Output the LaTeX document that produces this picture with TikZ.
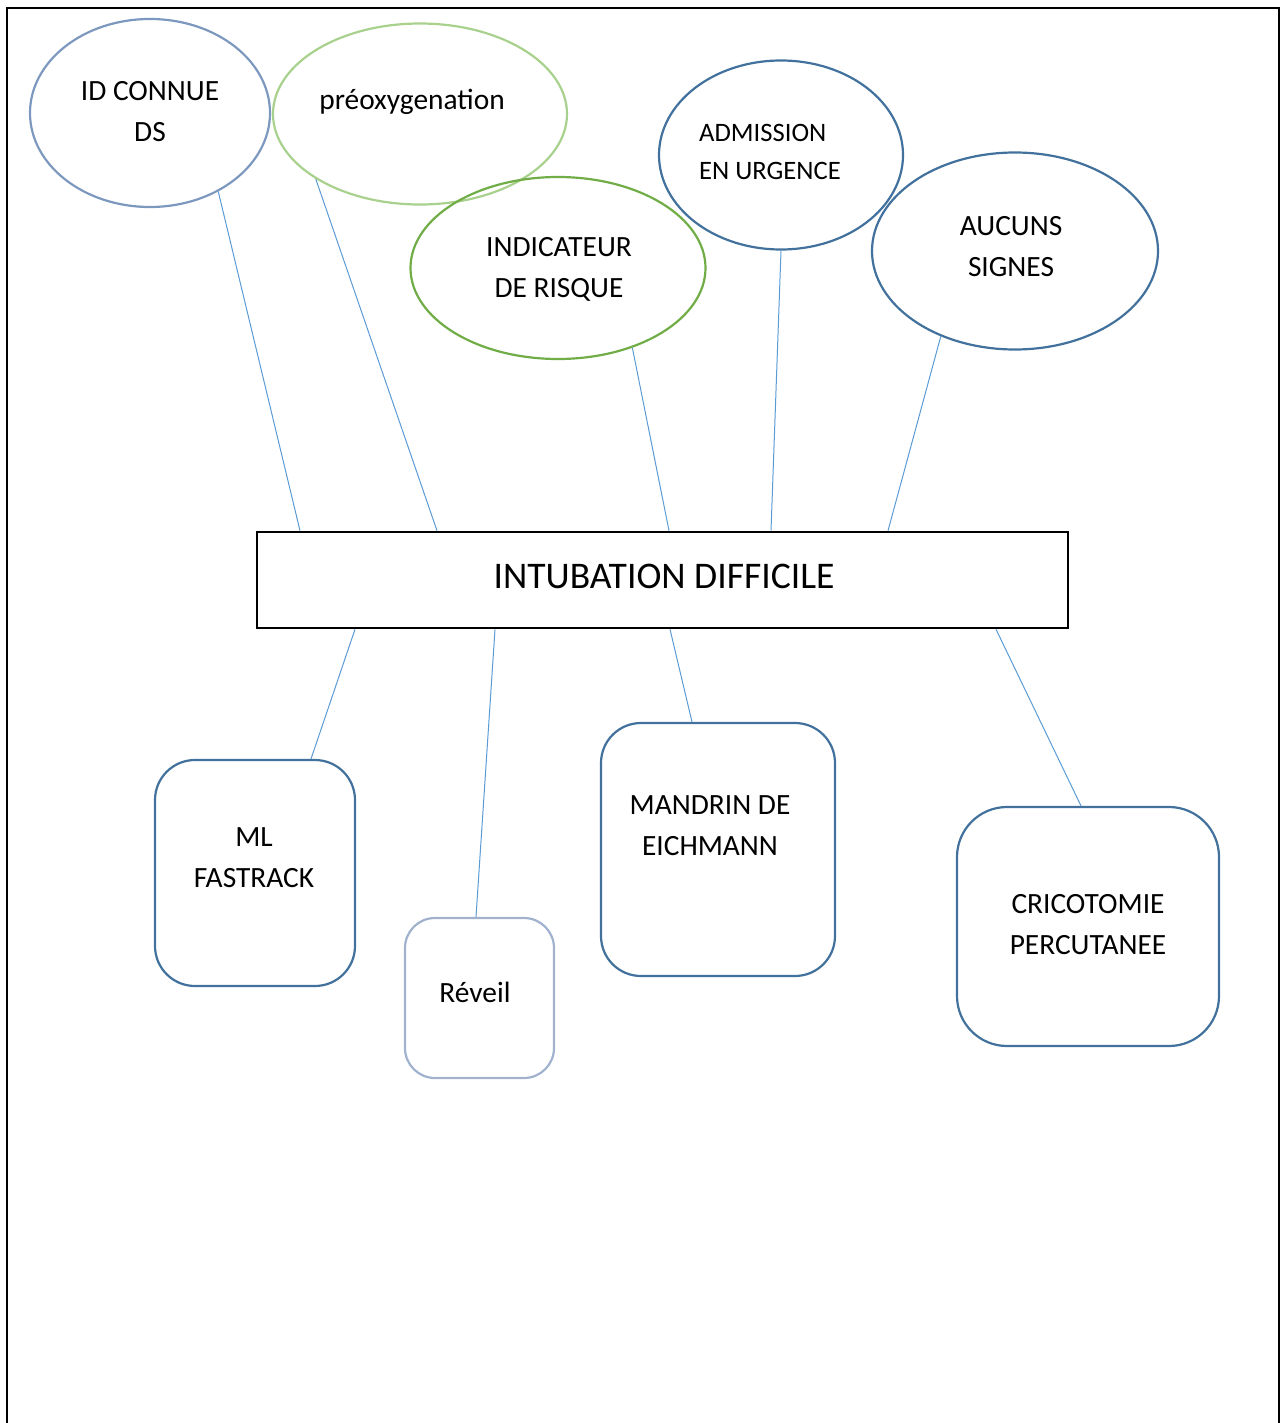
\documentclass[tikz,border=0pt]{standalone}
\usepackage{fontspec}
\setmainfont{Carlito}
\usepackage{tikz}
\usetikzlibrary{calc, shapes.geometric, positioning}
\definecolor{bleu}{RGB}{65,113,156}
\definecolor{bleugris}{RGB}{125,152,190}
\definecolor{bleuclair}{RGB}{160,178,205}
\definecolor{vertclair}{RGB}{169,209,142}
\definecolor{vert}{RGB}{112,173,71}
\definecolor{trait}{RGB}{91,155,213}
\tikzstyle{bulle} = [ellipse, draw=bleu, line width=1.1pt, inner sep=0pt]
\tikzstyle{boite} = [rectangle, rounded corners=20pt, draw=bleu, line width=1.1pt, inner sep=0pt]
\tikzstyle{lien} = [draw=trait, line width=0.5pt]
\tikzstyle{txt} = [align=center, inner sep=0pt, font=\fontsize{14.7}{20.5}\selectfont]

\begin{document}
\begin{tikzpicture}[x=0.5pt, y=-0.5pt]
            \useasboundingbox (0,0) rectangle (1283,1423);
            \draw[line width=1.2pt] (7,1423) -- (7,8) -- (1279,8) -- (1279,1423);
            % ellipses du haut
            \node[bulle, draw=bleugris, minimum width=120pt, minimum height=94pt] (id) at (150,113) {};
            \node[bulle, draw=vertclair, minimum width=147pt, minimum height=90.5pt] (pre) at (420,114) {};
            \node[bulle, draw=vert, minimum width=147.5pt, minimum height=91pt] (ind) at (558,268) {};
            \node[bulle, minimum width=122pt, minimum height=94.5pt] (adm) at (781,155) {};
            \node[bulle, minimum width=143pt, minimum height=98.5pt] (auc) at (1015,251) {};
            \node[txt] (idtxt) at (150,112) {ID CONNUE\\DS};
            \node[txt] (pretxt) at (412,102) {préoxygenation};
            \node[txt] (indtxt) at (559,269) {INDICATEUR\\DE RISQUE};
            \node[txt, align=left, font=\fontsize{13.3}{19}\selectfont] (admtxt) at (770,152) {ADMISSION\\EN URGENCE};
            \node[txt] (auctxt) at (1011,247) {AUCUNS\\SIGNES};
            % boite centrale
            \node[draw, line width=1.3pt, minimum width=405.5pt, minimum height=48pt, inner sep=0pt] (main) at (662.5,580) {};
            \node[txt, font=\fontsize{18.8}{22}\selectfont] (maintxt) at (664,576) {INTUBATION DIFFICILE};
            % boites du bas
            \node[boite, minimum width=100pt, minimum height=113pt] (ml) at (255,873) {};
            \node[boite, draw=bleuclair, rounded corners=15pt, minimum width=74.5pt, minimum height=80pt] (rev) at (479.5,998) {};
            \node[boite, minimum width=117pt, minimum height=126.5pt] (man) at (718,849.5) {};
            \node[boite, rounded corners=25pt, minimum width=131pt, minimum height=119.5pt] (cri) at (1088,926.5) {};
            \node[txt] (mltxt) at (254,858) {ML\\FASTRACK};
            \node[txt] (revtxt) at (475,992) {Réveil};
            \node[txt] (mantxt) at (710,826) {MANDRIN DE\\EICHMANN};
            \node[txt] (critxt) at (1088,925) {CRICOTOMIE\\PERCUTANEE};
            % liens
            \draw[lien] (id.-49) -- ($(main.north)+(-362.5,0)$);
            \draw[lien] (pre.212) -- ($(main.north)+(-225.5,0)$);
            \draw[lien] (ind.-47) -- ($(main.north)+(6.5,0)$);
            \draw[lien] (adm.south) -- ($(main.north)+(108.5,0)$);
            \draw[lien] (auc.229) -- ($(main.north)+(225.5,0)$);
            \draw[lien] ($(main.south)+(-307.5,0)$) -- ($(ml.north)+(56,0)$);
            \draw[lien] ($(main.south)+(-167.5,0)$) -- ($(rev.north)+(-3.5,0)$);
            \draw[lien] ($(main.south)+(7.5,0)$) -- ($(man.north)+(-26,0)$);
            \draw[lien] ($(main.south)+(333.5,0)$) -- ($(cri.north)+(-7,0)$);
        \end{tikzpicture}
\end{document}
